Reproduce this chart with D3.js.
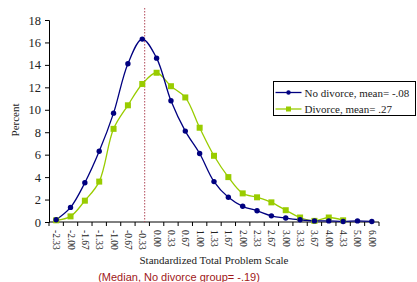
<!DOCTYPE html>
<html>
<head>
<meta charset="utf-8">
<script src="https://cdn.jsdelivr.net/npm/d3@7"></script>
<style>
  body { margin: 0; background: #fff; }
  svg text { font-family: "Liberation Serif", "Times New Roman", serif; fill: #222; }
</style>
</head>
<body>
<div id="chart"></div>
<script>
// categories of the standardized scale
var categories = ["-2.33","-2.00","-1.67","-1.33","-1.00","-0.67","-0.33","0.00","0.33","0.67","1.00",
                  "1.33","1.67","2.00","2.33","2.67","3.00","3.33","3.67","4.00","4.33","5.00","6.00"];
// percent, no divorce group
var noDivorce = [0.2, 1.3, 3.5, 6.3, 9.7, 14.1, 16.3, 14.6, 10.8, 8.1, 6.1,
                 3.6, 2.2, 1.4, 1.0, 0.55, 0.35, 0.2, 0.1, 0.1, 0.05, 0.1, 0.05];
// percent, divorce group (no values for 5.00 and 6.00)
var divorce = [0.15, 0.5, 1.9, 3.6, 8.3, 10.4, 12.3, 13.3, 12.1, 11.1, 8.4,
               5.9, 4.0, 2.55, 2.2, 1.75, 1.05, 0.4, 0.1, 0.4, 0.15, null, null];
var yTicks = [0, 2, 4, 6, 8, 10, 12, 14, 16, 18];
var seriesNames = ["No divorce, mean= -.08", "Divorce, mean= .27"];
var medianCat = "-0.33", medianOffset = 0.17; // median -.19 sits just right of -0.33

var width = 417, height = 282;
var svg = d3.select("#chart").append("svg").attr("width", width).attr("height", height);

var x = d3.scaleBand().domain(categories).range([49, 379]);
var y = d3.scaleLinear().domain([0, 18]).range([222, 20]);
var cx = function(c) { return x(c) + x.bandwidth() / 2; };

// y axis
var yAxis = svg.append("g").attr("transform", "translate(49,0)")
    .call(d3.axisLeft(y).tickValues(yTicks).tickSize(4).tickPadding(4));
yAxis.selectAll("text").style("font-size", "12.5px").style("font-family", "Liberation Serif");
yAxis.selectAll("line, path").attr("stroke", "#000");

// x axis: ticks on band edges, labels rotated
var xg = svg.append("g").attr("transform", "translate(0,222)");
xg.append("line").attr("x1", 49).attr("x2", 379).attr("stroke", "#000");
xg.selectAll(".tk").data(categories.concat(["end"])).enter().append("line")
    .attr("x1", function(d, i) { return 49 + i * x.step(); })
    .attr("x2", function(d, i) { return 49 + i * x.step(); })
    .attr("y1", 0).attr("y2", 4).attr("stroke", "#000");
xg.selectAll(".lb").data(categories).enter().append("text")
    .attr("transform", function(d) { return "translate(" + (cx(d) - 3) + ",8) rotate(90)"; })
    .style("font-size", "9.5px")
    .text(function(d) { return d; });

// median line
var mx = cx(medianCat) + medianOffset * x.step();
svg.append("line").attr("x1", mx).attr("x2", mx).attr("y1", 8).attr("y2", 222)
    .attr("stroke", "#b04858").attr("stroke-width", 1).attr("stroke-dasharray", "1.5,1.5");

var line = d3.line()
    .defined(function(d) { return d.v != null; })
    .x(function(d) { return cx(d.c); })
    .y(function(d) { return y(d.v); })
    .curve(d3.curveCatmullRom.alpha(0.5));

var nd = categories.map(function(c, i) { return {c: c, v: noDivorce[i]}; });
var dv = categories.map(function(c, i) { return {c: c, v: divorce[i]}; }).filter(function(d) { return d.v != null; });

svg.append("path").datum(dv).attr("d", line).attr("fill", "none").attr("stroke", "#99cc00").attr("stroke-width", 1.3);
svg.append("path").datum(nd).attr("d", line).attr("fill", "none").attr("stroke", "#000080").attr("stroke-width", 1.3);

svg.selectAll(".sq").data(dv).enter().append("rect")
    .attr("x", function(d) { return cx(d.c) - 3; }).attr("y", function(d) { return y(d.v) - 3; })
    .attr("width", 6).attr("height", 6).attr("fill", "#99cc00");
svg.selectAll(".dot").data(nd).enter().append("circle")
    .attr("cx", function(d) { return cx(d.c); }).attr("cy", function(d) { return y(d.v); })
    .attr("r", 2.7).attr("fill", "#000080");

// axis titles
svg.append("text").attr("x", 214).attr("y", 264).attr("text-anchor", "middle")
    .style("font-size", "11px").text("Standardized Total Problem Scale");
svg.append("text").attr("transform", "translate(19,120) rotate(-90)").attr("text-anchor", "middle")
    .style("font-size", "11px").text("Percent");
svg.append("text").attr("x", 179).attr("y", 281).attr("text-anchor", "middle")
    .style("font-size", "11px").style("font-family", "Liberation Sans, Arial, sans-serif")
    .style("fill", "#a01818").text("(Median, No divorce group= -.19)");

// legend
var lg = svg.append("g").attr("transform", "translate(273.5,81.5)");
lg.append("rect").attr("width", 142).attr("height", 34).attr("fill", "#fff").attr("stroke", "#000");
var colors = ["#000080", "#99cc00"];
seriesNames.forEach(function(name, i) {
    var yy = 11 + i * 16.5;
    lg.append("line").attr("x1", 2).attr("x2", 28).attr("y1", yy).attr("y2", yy)
        .attr("stroke", colors[i]).attr("stroke-width", 1.3);
    if (i === 0) lg.append("circle").attr("cx", 15).attr("cy", yy).attr("r", 2.2).attr("fill", colors[i]);
    else lg.append("rect").attr("x", 12.5).attr("y", yy - 2.5).attr("width", 5).attr("height", 5).attr("fill", colors[i]);
    lg.append("text").attr("x", 31).attr("y", yy + 4).style("font-size", "11px").text(name);
});
</script>
</body>
</html>
